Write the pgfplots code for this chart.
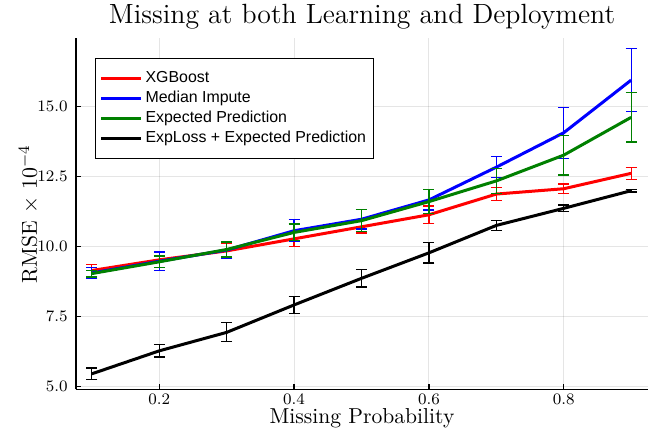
\documentclass[border=0pt]{standalone}
\usepackage{fontspec}
\newfontfamily\legendfont{Liberation Sans}
\usepackage{pgfplots}
\pgfplotsset{compat=1.18}
\definecolor{jred}{RGB}{255,0,0}
\definecolor{jblue}{RGB}{0,0,255}
\definecolor{jgreen}{RGB}{0,128,0}
\begin{document}
\begin{tikzpicture}
\begin{axis}[
  scale only axis,
  width=286pt, height=175.5pt,
  at={(0,0)}, anchor=south west,
  xmin=0.0765, xmax=0.925,
  ymin=4.907, ymax=17.443,
  axis lines=left,
  axis line style={-, line width=0.6pt, black},
  xtick={0.2,0.4,0.6,0.8},
  ytick={5,7.5,10,12.5,15},
  tick align=inside,
  major tick length=2.5pt,
  tick style={black, line width=0.6pt},
  ticklabel style={font=\fontsize{8}{9}\selectfont},
  xticklabel style={/pgf/number format/fixed, /pgf/number format/fixed zerofill, /pgf/number format/precision=1, anchor=base, yshift=-7.85pt, inner sep=0pt},
  yticklabel style={/pgf/number format/fixed, /pgf/number format/fixed zerofill, /pgf/number format/precision=1, anchor=east, xshift=-4pt, inner sep=0pt},
  grid=major,
  major grid style={black, opacity=0.1, line width=0.5pt},
  title={Missing at both Learning and Deployment},
  title style={font=\fontsize{13.9}{17}\selectfont, at={(axis description cs:0.5,1)}, anchor=base, yshift=1.2pt, inner sep=0pt},
  xlabel={Missing Probability},
  xlabel style={font=\fontsize{10.8}{12}\selectfont, at={(axis description cs:0.5,0)}, anchor=base, yshift=-17.3pt, inner sep=0pt},
  ylabel={RMSE $\times\ 10^{-4}$},
  ylabel style={font=\fontsize{10.8}{12}\selectfont, at={([xshift=-19.5pt]axis description cs:0,0.5)}, anchor=base, inner sep=0pt},
  legend style={at={(axis description cs:0.0332,0.9447)}, anchor=north west, draw=black, line width=0.6pt,
    font=\legendfont\fontsize{7.95}{9}\selectfont, inner xsep=2pt, inner ysep=6pt, row sep=2pt,
    nodes={inner xsep=1.5pt, inner ysep=0pt, text height=6pt, text depth=2pt}},
  legend cell align=left,
  legend image code/.code={\draw[#1, line width=1.5pt] (0pt,0pt) -- (20pt,0pt);},
  every axis plot/.append style={line width=1.5pt},
  error bars/error bar style={line width=0.6pt, solid},
  error bars/error mark options={rotate=90, mark size=2.75pt, line width=0.6pt},
]
\addplot[jred, error bars/.cd, y dir=both, y explicit] table[x=x, y=y, y error=e] {
x y e
0.1 9.15 0.21
0.2 9.53 0.27
0.3 9.85 0.25
0.4 10.28 0.27
0.5 10.71 0.22
0.6 11.14 0.31
0.7 11.88 0.24
0.8 12.07 0.17
0.9 12.62 0.22
};
\addlegendentry{XGBoost}
\addplot[jblue, error bars/.cd, y dir=both, y explicit] table[x=x, y=y, y error=e] {
x y e
0.1 9.06 0.19
0.2 9.48 0.33
0.3 9.88 0.30
0.4 10.57 0.39
0.5 10.98 0.35
0.6 11.67 0.36
0.7 12.84 0.37
0.8 14.07 0.91
0.9 15.95 1.13
};
\addlegendentry{Median Impute}
\addplot[jgreen, error bars/.cd, y dir=both, y explicit] table[x=x, y=y, y error=e] {
x y e
0.1 9.04 0.12
0.2 9.46 0.21
0.3 9.90 0.27
0.4 10.51 0.30
0.5 10.93 0.40
0.6 11.61 0.42
0.7 12.35 0.45
0.8 13.27 0.71
0.9 14.62 0.88
};
\addlegendentry{Expected Prediction}
\addplot[black, error bars/.cd, y dir=both, y explicit] table[x=x, y=y, y error=e] {
x y e
0.1 5.46 0.21
0.2 6.28 0.22
0.3 6.94 0.34
0.4 7.92 0.31
0.5 8.87 0.31
0.6 9.78 0.36
0.7 10.76 0.17
0.8 11.37 0.12
0.9 12.00 0.05
};
\addlegendentry{ExpLoss + Expected Prediction\hspace{3pt}}
\end{axis}
\pgfresetboundingbox
\useasboundingbox (-38pt,-26.85pt) rectangle (294pt,194.65pt);
\end{tikzpicture}
\end{document}
